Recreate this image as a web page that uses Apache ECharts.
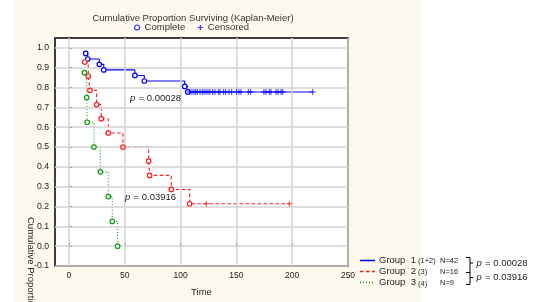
<!DOCTYPE html>
<html><head><meta charset="utf-8">
<script src="https://cdn.jsdelivr.net/npm/echarts@6/dist/echarts.min.js"></script>
<style>html,body{margin:0;padding:0;background:#fff}#c{width:533px;height:302px}</style>
</head><body><div id="c"></div>
<script>
// ---- data ----
const xTicks = [0, 50, 100, 150, 200, 250];
const yTicks = [-0.1, 0.0, 0.1, 0.2, 0.3, 0.4, 0.5, 0.6, 0.7, 0.8, 0.9, 1.0];

// Group 1 (1+2), N=42 : event times / survival after event
const g1Time = [15.0, 16.8, 27.2, 31.2, 59.1, 67.5, 103.7, 106.4];
const g1Surv = [0.972, 0.944, 0.917, 0.889, 0.861, 0.833, 0.806, 0.778];
const g1Censored = [108.4, 110.2, 112.0, 113.6, 115.0, 117.4, 119.4, 121.0, 122.8, 124.6, 126.3, 128.8, 130.8, 133.8, 135.3, 138.6, 140.4, 143.4, 145.8, 150.0, 152.3, 154.1, 160.7, 162.8, 174.7, 176.5, 179.5, 181.0, 185.5, 187.3, 190.0, 191.5, 218.4];

// Group 2 (3), N=16
const g2Time = [14.1, 17.3, 18.8, 24.8, 28.9, 35.2, 48.4, 71.4, 72.3, 91.7, 108.1];
const g2Surv = [0.929, 0.857, 0.786, 0.714, 0.643, 0.571, 0.500, 0.429, 0.357, 0.286, 0.214];
const g2Censored = [123.0, 197.4];

// Group 3 (4), N=9
const g3Time = [13.8, 15.9, 16.3, 22.4, 28.1, 35.2, 38.8, 43.6];
const g3Surv = [0.875, 0.750, 0.625, 0.500, 0.375, 0.250, 0.125, 0.000];
const g3Censored = [];

const groupNames = ['Group 1', 'Group 2', 'Group 3'];
const groupSub = ['(1+2)', '(3)', '(4)'];
const groupN = ['N=42', 'N=16', 'N=9'];
const pValues = ['0.00028', '0.03916'];

// ---- helpers ----
function survAt(times, surv, t) {
  let s = 1;
  for (let i = 0; i < times.length; i++) if (times[i] <= t) s = surv[i];
  return s;
}
function stepData(times, surv, censored) {
  const d = times.map((t, i) => [t, surv[i]]);
  if (censored.length) {
    const last = Math.max(...censored);
    d.push([last, survAt(times, surv, last)]);
  }
  return d;
}
const colors = ['#0000ff', '#ff1a1a', '#129a12'];
const lineTypes = ['solid', [3.5, 2.5], [1, 2]];
const groups = [
  [g1Time, g1Surv, g1Censored],
  [g2Time, g2Surv, g2Censored],
  [g3Time, g3Surv, g3Censored]
];
const plusPath = 'path://M5,0L5,10M0,5L10,5';

const series = [];
// grid lines at the tick values
series.push({
  type: 'line', data: [], silent: true, z: 1,
  markLine: {
    silent: true, symbol: 'none', animation: false,
    label: { show: false },
    lineStyle: { color: '#d3d3d3', width: 1.5, type: 'solid' },
    emphasis: { disabled: true },
    data: xTicks.map(v => ({ xAxis: v })).concat(yTicks.map(v => ({ yAxis: v })))
  }
});
groups.forEach((g, k) => {
  series.push({
    type: 'line', name: groupNames[k], step: 'end', showSymbol: false, silent: true,
    data: stepData(g[0], g[1], g[2]),
    lineStyle: { color: colors[k], width: 1.1, type: lineTypes[k] }, z: 3
  });
  series.push({
    type: 'scatter', silent: true, symbol: 'circle', symbolSize: 4.5,
    data: g[0].map((t, i) => [t, g[1][i]]),
    itemStyle: { color: '#fff', borderColor: colors[k], borderWidth: 1.2, opacity: 1 }, z: 5
  });
  series.push({
    type: 'scatter', silent: true, symbol: plusPath, symbolSize: 6,
    data: g[2].map(t => [t, survAt(g[0], g[1], t)]),
    itemStyle: { color: 'rgba(0,0,0,0)', borderColor: colors[k], borderWidth: 1 }, z: 5
  });
});
// legend-only series
series.push({ type: 'scatter', name: 'Complete', data: [], symbol: 'circle', color: '#fff',
  itemStyle: { color: '#fff', borderColor: '#0000ff', borderWidth: 1.2 } });
series.push({ type: 'scatter', name: 'Censored', data: [], symbol: plusPath, color: 'rgba(0,0,0,0)',
  itemStyle: { color: 'rgba(0,0,0,0)', borderColor: '#0000ff', borderWidth: 1.2 } });

const FONT = 'Liberation Sans, Arial, sans-serif';
const txt = '#222';

// bottom-right legend graphics
const legendG = [];
const rowsY = [260.5, 271.5, 282.5];
groupNames.forEach((n, k) => {
  legendG.push({ type: 'line', shape: { x1: 360, y1: rowsY[k], x2: 375, y2: rowsY[k] },
    style: { stroke: colors[k], lineWidth: k === 0 ? 1.5 : 1.3, lineDash: k === 0 ? null : lineTypes[k] } });
  legendG.push({ type: 'text', x: 379, y: rowsY[k], style: { text: n.replace(' ', '  '), font: '9.5px ' + FONT, fill: txt, verticalAlign: 'middle' } });
  legendG.push({ type: 'text', x: 418, y: rowsY[k] + (k === 2 ? 1.5 : 0), style: { text: groupSub[k], font: '7.5px ' + FONT, fill: txt, verticalAlign: 'middle' } });
  legendG.push({ type: 'text', x: 440, y: rowsY[k], style: { text: groupN[k], font: '7.5px ' + FONT, fill: txt, verticalAlign: 'middle' } });
});
legendG.push({ type: 'polyline', shape: { points: [[466, 257.5], [470, 257.5], [470, 284.5], [466, 284.5]] }, style: { stroke: '#000', lineWidth: 1, fill: null } });
legendG.push({ type: 'line', shape: { x1: 466, y1: 272.5, x2: 470, y2: 272.5 }, style: { stroke: '#000', lineWidth: 1 } });
legendG.push({ type: 'line', shape: { x1: 470, y1: 263, x2: 473, y2: 263 }, style: { stroke: '#000', lineWidth: 1 } });
legendG.push({ type: 'line', shape: { x1: 470, y1: 277.5, x2: 473, y2: 277.5 }, style: { stroke: '#000', lineWidth: 1 } });
const pRich = { i: { fontStyle: 'italic', fontSize: 9.5, fontFamily: FONT, fill: txt }, n: { fontSize: 9.5, fontFamily: FONT, fill: txt } };
legendG.push({ type: 'text', x: 476.5, y: 263, style: { text: '{i|p} {n|= ' + pValues[0] + '}', rich: pRich, verticalAlign: 'middle' } });
legendG.push({ type: 'text', x: 476.5, y: 277.5, style: { text: '{i|p} {n|= ' + pValues[1] + '}', rich: pRich, verticalAlign: 'middle' } });

const option = {
  animation: false,
  backgroundColor: '#fff',
  title: {
    text: 'Cumulative Proportion Surviving (Kaplan-Meier)',
    left: 188, top: 8, textAlign: 'center',
    textStyle: { fontSize: 9.5, fontWeight: 'normal', color: '#333', fontFamily: FONT }
  },
  legend: {
    data: [
      { name: 'Complete', icon: 'circle', itemStyle: { color: '#fff', borderColor: '#0000ff', borderWidth: 1.2 } },
      { name: 'Censored', icon: plusPath, itemStyle: { color: 'rgba(0,0,0,0)', borderColor: '#0000ff', borderWidth: 1.2 } }
    ],
    left: 134, top: 22.5, padding: 0, itemWidth: 5, itemHeight: 5, itemGap: 12,
    textStyle: { fontSize: 9.5, color: '#333', fontFamily: FONT },
    selectedMode: false
  },
  grid: {
    left: 55, right: 185, top: 38, bottom: 34,
    show: true, backgroundColor: '#fff', borderColor: '#000', borderWidth: 1.5
  },
  xAxis: {
    type: 'value', min: -12.5, max: 250,
    name: 'Time', nameLocation: 'middle', nameGap: 21,
    nameTextStyle: { fontSize: 9.5, color: txt, fontFamily: FONT },
    axisLine: { show: false },
    axisTick: { show: true, inside: true, length: 3, customValues: xTicks, lineStyle: { color: '#000' } },
    axisLabel: { customValues: xTicks, fontSize: 8.5, color: txt, margin: 5, fontFamily: FONT },
    splitLine: { show: false }
  },
  yAxis: {
    type: 'value', min: -0.1, max: 1.05,
    axisLine: { show: false },
    axisTick: { show: true, inside: true, length: 3, customValues: yTicks, lineStyle: { color: '#000' } },
    axisLabel: { customValues: yTicks, fontSize: 8.7, color: txt, margin: 6, fontFamily: FONT,
      formatter: v => v.toFixed(1) },
    splitLine: { show: false }
  },
  graphic: [
    { type: 'rect', z: -100, silent: true, shape: { x: 15, y: 0, width: 406, height: 302 }, style: { fill: '#fdf9ee' } },
    { type: 'text', x: 36, y: 217, rotation: -Math.PI / 2, style: { text: 'Cumulative Proportion', font: '9.5px ' + FONT, fill: txt } },
    { type: 'text', x: 130, y: 98.5, z: 10, style: { text: '{i|p} {n|= ' + pValues[0] + '}', rich: pRich, verticalAlign: 'middle' } },
    { type: 'text', x: 125, y: 197, z: 10, style: { text: '{i|p} {n|= ' + pValues[1] + '}', rich: pRich, verticalAlign: 'middle' } }
  ].concat(legendG),
  series: series
};
const chart = echarts.init(document.getElementById('c'), null, { renderer: 'canvas' });
chart.setOption(option);
</script>
</body></html>
